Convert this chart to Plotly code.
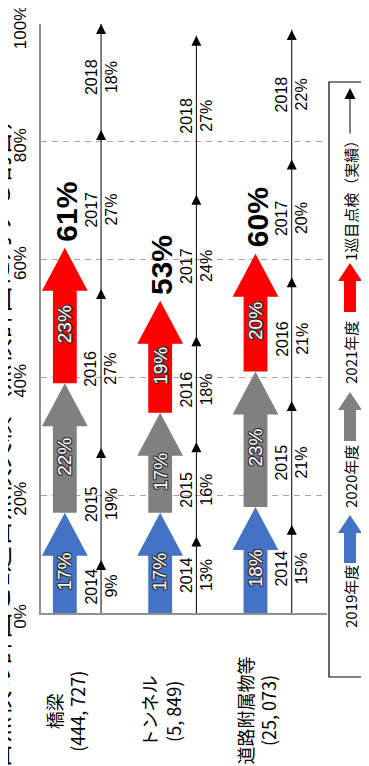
import plotly.graph_objects as go

# --- data -------------------------------------------------------------
categories = ["橋梁", "トンネル", "道路附属物等"]
facility_counts = ["444, 727", "5, 849", "25, 073"]

plan_years = ["2019年度", "2020年度", "2021年度"]
plan_2019 = [17, 17, 18]
plan_2020 = [22, 17, 23]
plan_2021 = [23, 19, 20]
plan_total = [61, 53, 60]

first_years = ["2014", "2015", "2016", "2017", "2018"]
first_bridge = [9, 19, 27, 27, 18]
first_tunnel = [13, 16, 18, 24, 27]
first_facility = [15, 21, 21, 20, 22]

tick_vals = [0, 20, 40, 60, 80, 100]
tick_text = ["0%", "20%", "40%", "60%", "80%", "100%"]

# --- style -------------------------------------------------------------
plan_colors = ["#4472C4", "#808080", "#FF0000"]
NARROW = "Liberation Sans Narrow, Arial Narrow, Liberation Sans, sans-serif"
JP = "Noto Sans CJK JP, Noto Sans CJK SC, sans-serif"
BOLD = "Liberation Sans, Arial, sans-serif"
OUTLINE = ("1px 1px 0 #333, -1px -1px 0 #333, 1px -1px 0 #333, -1px 1px 0 #333, "
           "0 1px 0 #333, 0 -1px 0 #333, 1px 0 0 #333, -1px 0 0 #333")

PAGE_W, PAGE_H = 369, 766
BODY = 8                      # default body margin of the html page
W, H = PAGE_W - BODY, PAGE_H - BODY
L, R, T, B = 41, 327, 24, 613  # plot area in page pixels

ARROW_X = 0.25      # thick arrow offset inside each category slot
LINE_X = 0.63       # thin arrow offset
HEAD_LEN = 7.3      # arrow head length (value units)
HEAD_HALF = 0.24
SHAFT_HALF = 0.125


def px_x(px):
    return (px - L) / (R - L)


def px_y(py):
    return (B - py) / (B - T)


def note(**kw):
    d = dict(showarrow=False, xanchor="center", yanchor="middle", textangle=-90)
    d.update(kw)
    return d


fig = go.Figure()

# thick arrows (plan 2019-2021)
plans = [plan_2019, plan_2020, plan_2021]
annotations = []
for j, series in enumerate(plans):
    xs, ys = [], []
    for i in range(len(categories)):
        start = sum(p[i] for p in plans[:j])
        end = start + series[i]
        c = i + ARROW_X
        neck = end - HEAD_LEN
        xs += [c - SHAFT_HALF, c - SHAFT_HALF, c - HEAD_HALF, c, c + HEAD_HALF,
               c + SHAFT_HALF, c + SHAFT_HALF, c - SHAFT_HALF, None]
        ys += [start, neck, neck, end, neck, neck, start, start, None]
        annotations.append(note(
            x=c, y=(start + end) / 2 - 1.5, xref="x", yref="y", text=f"{series[i]}%",
            font=dict(family=NARROW, size=19, color="white", shadow=OUTLINE)))
    fig.add_trace(go.Scatter(x=xs, y=ys, mode="lines", fill="toself",
                             fillcolor=plan_colors[j], line=dict(width=0),
                             name=plan_years[j], hoverinfo="skip"))

for i, total in enumerate(plan_total):
    end = plan_2019[i] + plan_2020[i] + plan_2021[i]
    annotations.append(note(
        x=i + ARROW_X, y=end, xref="x", yref="y", text=f"{total}%",
        yshift=36, xshift=2,
        font=dict(family=BOLD, size=30, color="black", weight="bold")))

# thin arrows (first round actuals)
first = [first_bridge, first_tunnel, first_facility]
lx, ly, mx, my = [], [], [], []
for i, series in enumerate(first):
    x = i + LINE_X
    cum = 0
    lx += [x, x, None]
    ly += [0, sum(series), None]
    for year, v in zip(first_years, series):
        mid = cum + v / 2
        cum += v
        mx.append(x)
        my.append(cum)
        annotations.append(note(x=x, y=mid, xref="x", yref="y", text=year, xshift=-10,
                                font=dict(family=NARROW, size=16, color="black")))
        annotations.append(note(x=x, y=mid, xref="x", yref="y", text=f"{v}%", xshift=10,
                                font=dict(family=NARROW, size=16, color="black")))

fig.add_trace(go.Scatter(x=lx, y=ly, mode="lines", line=dict(color="black", width=1),
                         hoverinfo="skip", name="1巡目点検（実績）"))
fig.add_trace(go.Scatter(x=mx, y=my, mode="markers",
                         marker=dict(symbol="arrow-up", size=10, color="black"),
                         hoverinfo="skip", showlegend=False))

# category labels
for i, (cat, cnt) in enumerate(zip(categories, facility_counts)):
    annotations.append(note(
        x=i + ARROW_X, y=px_y(711), xref="x", yref="paper",
        text=f"{cat}<br>({cnt})", align="center",
        font=dict(family=JP, size=18, color="black")))

# title (cut off at the left edge in the original)
annotations.append(note(
    x=px_x(-3), y=px_y(470), xref="paper", yref="paper",
    text="○2巡目点検の計画と1巡目点検実績（点検計画に対する割合）",
    font=dict(family=JP, size=26, color="black")))

# --- custom legend ----------------------------------------------------
shapes = [dict(type="rect", xref="paper", yref="paper",
               x0=px_x(329), x1=px_x(385), y0=px_y(677), y1=px_y(82),
               line=dict(color="black", width=1.2), fillcolor="white", layer="below")]


def legend_arrow(cx, tip, base, color):
    head = 18
    hh, sh = 12, 6
    neck = tip + head
    pts = [(cx - sh, base), (cx - sh, neck), (cx - hh, neck), (cx, tip),
           (cx + hh, neck), (cx + sh, neck), (cx + sh, base)]
    path = "M " + " L ".join(f"{px_x(a):.4f},{px_y(b):.4f}" for a, b in pts) + " Z"
    return dict(type="path", xref="paper", yref="paper", path=path,
                fillcolor=color, line=dict(width=0))


leg_cx = 350
legend_rows = [  # (label centre, arrow tip, arrow base)
    (597, 515, 563),
    (477, 392, 441),
    (353, 263, 312),
]
for (lab, tip, base), name, color in zip(legend_rows, plan_years, plan_colors):
    shapes.append(legend_arrow(leg_cx, tip, base, color))
    annotations.append(note(x=px_x(leg_cx), y=px_y(lab), xref="paper", yref="paper",
                            text=name, font=dict(family=JP, size=15, color="black")))

annotations.append(note(x=px_x(leg_cx), y=px_y(197), xref="paper", yref="paper",
                        text="1巡目点検（実績）", font=dict(family=JP, size=15, color="black")))
annotations.append(dict(x=px_x(leg_cx), y=px_y(88), ax=0, ay=47,
                        xref="paper", yref="paper", axref="pixel", ayref="pixel",
                        text="", showarrow=True, arrowhead=2, arrowsize=2.2,
                        arrowwidth=1, arrowcolor="black"))

fig.update_layout(
    width=W, height=H,
    margin=dict(l=L - BODY, r=PAGE_W - R, t=T - BODY, b=PAGE_H - B, autoexpand=False),
    paper_bgcolor="white", plot_bgcolor="white",
    showlegend=False,
    annotations=annotations, shapes=shapes,
    xaxis=dict(range=[0, 3], showgrid=False, zeroline=False, showticklabels=False,
               showline=True, linecolor="#909090", linewidth=2, fixedrange=True,
               automargin=False),
    yaxis=dict(range=[0, 100], tickvals=tick_vals, ticktext=tick_text, tickangle=-90,
               showgrid=True, gridcolor="#A6A6A6", griddash="6px,5px", gridwidth=1,
               zeroline=False, showline=True, linecolor="#909090", linewidth=1.5,
               ticks="", ticklabelstandoff=6, automargin=False, ticklabeloverflow="allow",
               ticklabelshift=6,
               tickfont=dict(family=NARROW, size=17, color="black"), fixedrange=True),
)

fig.write_html("out.html")
